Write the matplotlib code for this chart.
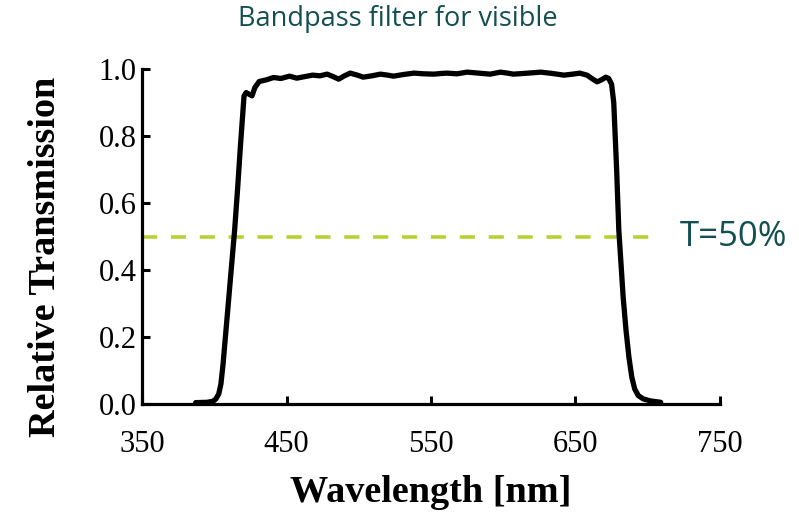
import numpy as np
import matplotlib
matplotlib.use("Agg")
import matplotlib.pyplot as plt

# transmission curve
wavelength = [387, 395, 399, 401, 403, 404.5, 406, 408, 410, 412, 414, 416, 418, 419.5, 420.5, 422, 424, 426,
              428, 431, 436, 441, 446, 452, 457, 463, 468, 473, 478, 482, 486, 490, 494, 499,
              503, 509, 515, 520, 524, 531, 538, 545, 552, 557, 561, 568, 575, 583, 591, 598,
              603, 607, 614, 620, 626, 634, 642, 648, 653, 658, 662, 665, 668, 671, 673, 675,
              676.5, 677.5, 678.5, 680, 681.5, 683, 685, 687, 689, 691, 693.5, 697, 702, 709]
transmission = [0.004, 0.005, 0.008, 0.015, 0.03, 0.06, 0.12, 0.22, 0.32, 0.42, 0.52, 0.64, 0.77, 0.86, 0.92, 0.93,
                0.925, 0.92, 0.945, 0.963, 0.968, 0.975, 0.972, 0.979, 0.973, 0.978, 0.982, 0.980,
                0.985, 0.978, 0.970, 0.980, 0.988, 0.982, 0.976, 0.980, 0.985, 0.982, 0.979, 0.984,
                0.988, 0.986, 0.985, 0.987, 0.988, 0.986, 0.991, 0.988, 0.985, 0.991, 0.988, 0.985,
                0.987, 0.989, 0.991, 0.987, 0.982, 0.985, 0.988, 0.982, 0.970, 0.962, 0.968, 0.976,
                0.972, 0.955, 0.90, 0.80, 0.70, 0.52, 0.42, 0.32, 0.22, 0.14, 0.08, 0.045, 0.025,
                0.015, 0.009, 0.005]

half_level = 0.5
half_span = [350, 707]
xticks = [350, 450, 550, 650, 750]
yticks = [0.0, 0.2, 0.4, 0.6, 0.8, 1.0]

teal = "#134f52"

fig = plt.figure(figsize=(7.99, 5.12), dpi=100)
ax = fig.add_axes([0.178, 0.211, 0.723, 0.654])

ax.plot(wavelength, transmission, color="black", lw=3.8,
        solid_capstyle="round", solid_joinstyle="round", zorder=3)
ax.hlines(half_level, half_span[0], half_span[1], colors="#b5d334", lw=2.6,
          linestyles=(0, (4.2, 3.8)), zorder=2)
ax.text(722, half_level, "T=50%", fontsize=25, color=teal, family="Open Sans",
        va="center", ha="left", clip_on=False)

ax.set_xlim(350, 750)
ax.set_ylim(0, 1.0)
ax.set_xticks(xticks)
ax.set_yticks(yticks)
ax.set_yticklabels([f"{v:.1f}" for v in yticks])

for s in ["top", "right"]:
    ax.spines[s].set_visible(False)
for s in ["left", "bottom"]:
    ax.spines[s].set_linewidth(2.3)
    ax.spines[s].set_capstyle("projecting")

ax.tick_params(axis="both", direction="in", length=6, width=2.2,
               labelsize=22, labelfontfamily="Liberation Serif")
ax.tick_params(axis="x", pad=19)
ax.tick_params(axis="y", pad=4)

ax.set_xlabel("Wavelength [nm]", fontsize=27.5, fontweight="bold",
              family="Liberation Serif", labelpad=11)
ax.set_ylabel("Relative Transmission", fontsize=27.5, fontweight="bold",
              family="Liberation Serif")
ax.yaxis.set_label_coords(-0.138, 0.44)

fig.text(0.498, 0.962, "Bandpass filter for visible", fontsize=19.5, color=teal,
         family="Open Sans", ha="center", va="center")

fig.savefig("out.png", dpi=100)
